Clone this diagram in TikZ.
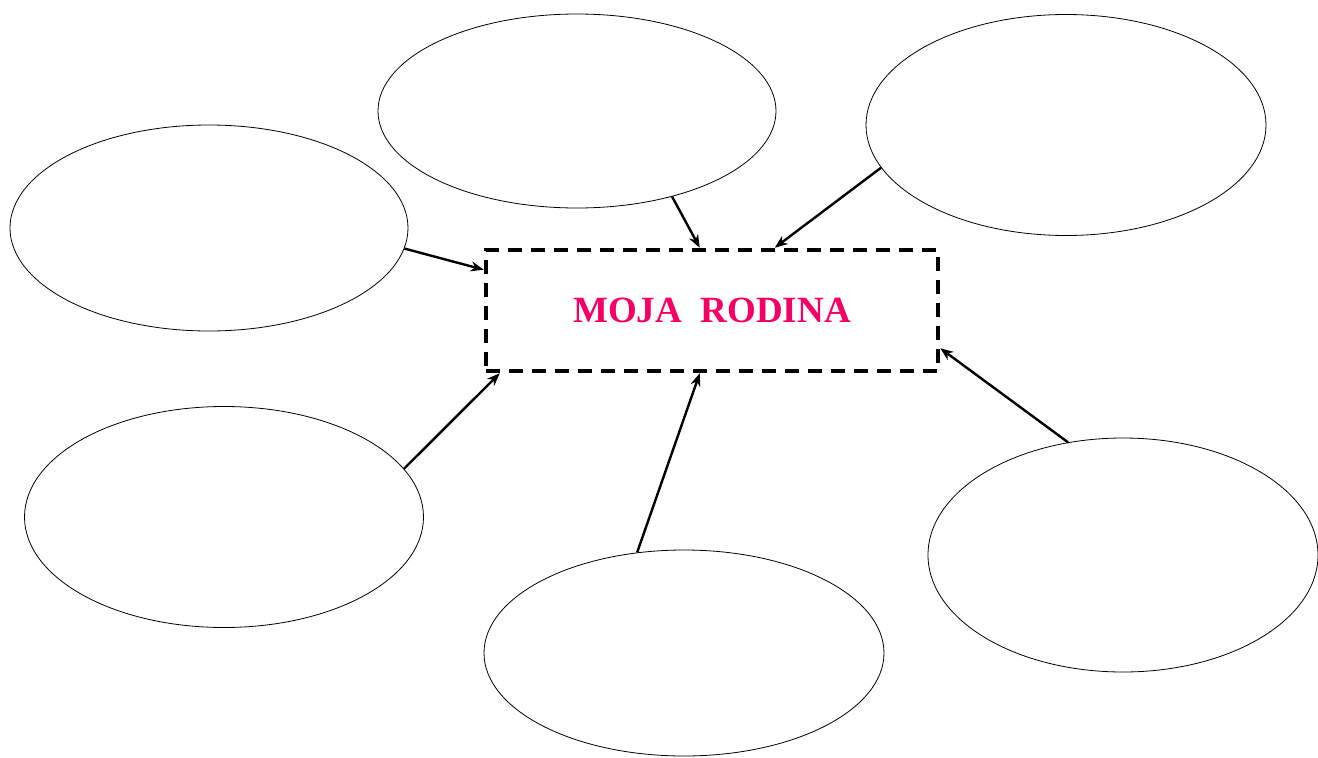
\documentclass[tikz,border=0pt]{standalone}
\usepackage{fontspec}
\setmainfont{Liberation Serif}
\usetikzlibrary{shapes.geometric,arrows.meta,calc}
\definecolor{titlepink}{RGB}{245,0,100}
\begin{document}
\begin{tikzpicture}[x=1pt,y=-1pt,
  bubble/.style={draw,ellipse,line width=0.8pt,inner sep=0pt},
  conn/.style={line width=2.4pt,-{Stealth[length=13pt,width=10pt]}},
  centerbox/.style={draw,line width=4.5pt,dash pattern=on 14pt off 9pt,inner sep=0pt,minimum width=452pt,minimum height=121pt}]
\useasboundingbox (0,0) rectangle (1318,758);
\node[bubble,minimum width=398pt,minimum height=194pt] (e1) at (577,111) {};
\node[bubble,minimum width=400pt,minimum height=221pt] (e2) at (1066,125) {};
\node[bubble,minimum width=398pt,minimum height=206pt] (e3) at (209,228) {};
\node[bubble,minimum width=399pt,minimum height=221pt] (e4) at (224,517) {};
\node[bubble,minimum width=400pt,minimum height=206pt] (e5) at (684,653) {};
\node[bubble,minimum width=390pt,minimum height=234pt] (e6) at (1123,555) {};
\node[centerbox] (r) at (712,310.5) {};
\node[text=titlepink,font=\fontsize{37}{44}\selectfont\bfseries] (t) at (712,310) {MOJA\ \ RODINA};
\draw[conn] (e1.-42) -- ($(r.north west)+(216,0)$);
\draw[conn] (e2.-167) -- ($(r.north west)+(291,0)$);
\draw[conn] (e3.-6) -- ($(r.north west)+(0,22)$);
\draw[conn] (e4.15) -- ($(r.south west)+(16,0)$);
\draw[conn] (e5.115) -- ($(r.south west)+(216,0)$);
\draw[conn] (e6.116) -- ($(r.south east)+(0,-25)$);
\end{tikzpicture}
\end{document}
